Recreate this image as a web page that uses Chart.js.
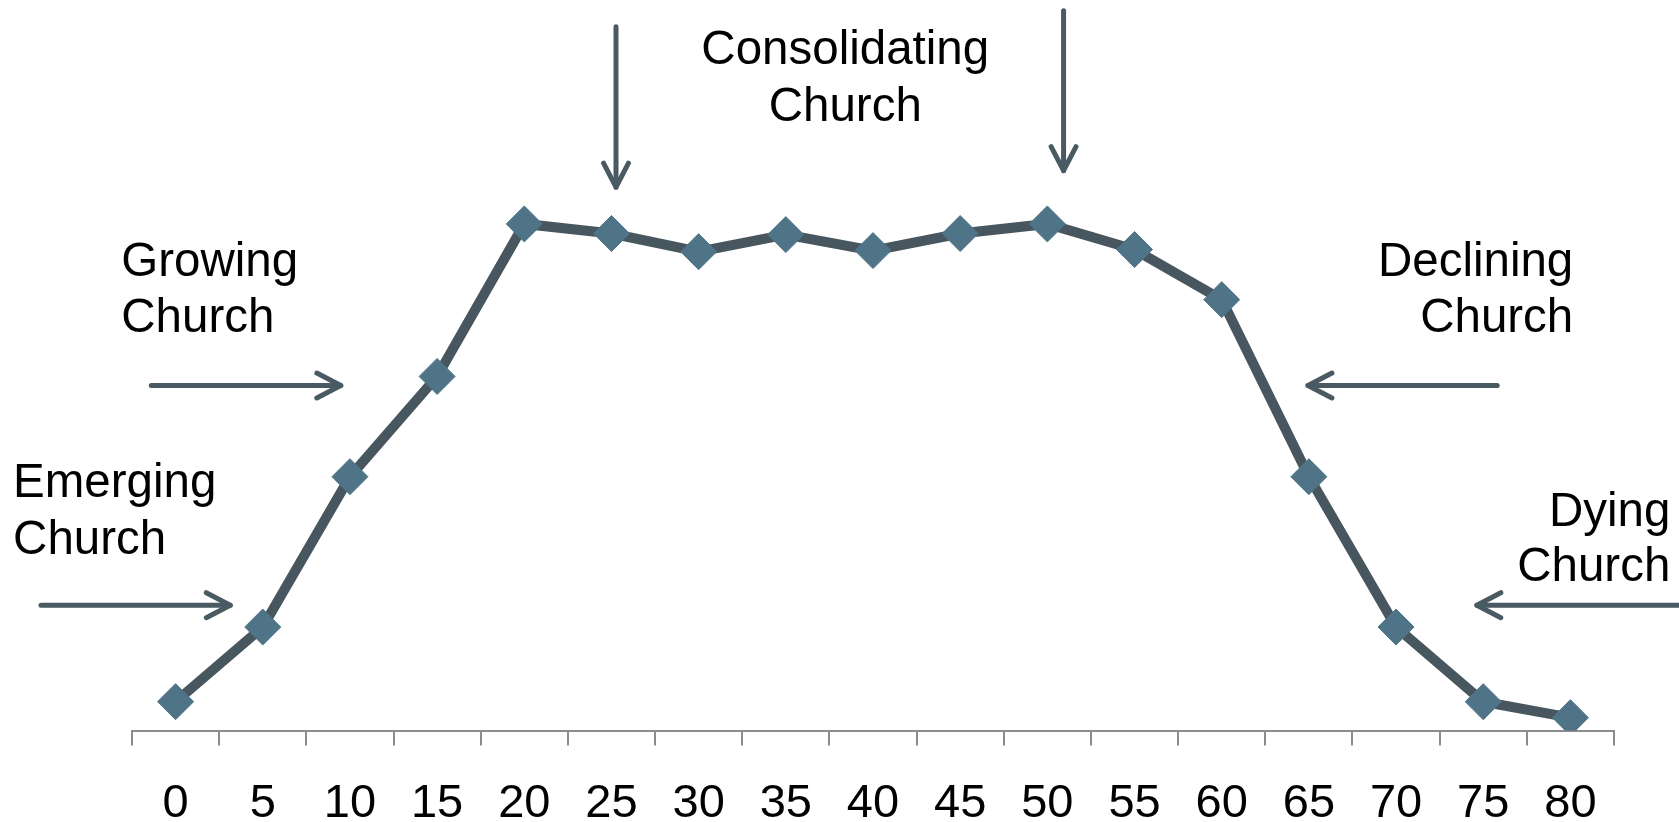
<!DOCTYPE html>
<html>
<head>
<meta charset="utf-8">
<script src="https://cdn.jsdelivr.net/npm/chart.js@4"></script>
<style>
  body { margin: 0; background: #fff; }
  #wrap { width: 1679px; height: 822px; }
</style>
</head>
<body>
<div id="wrap"><canvas id="c" width="1679" height="822"></canvas></div>
<script>
// church age (years) and relative size
const ages = ['0', '5', '10', '15', '20', '25', '30', '35', '40', '45', '50', '55', '60', '65', '70', '75', '80']
const size = [5.4, 19.4, 47.6, 66.4, 95, 93.2, 89.8, 93, 90, 93.2, 95, 90.2, 80.8, 47.6, 19.4, 5.4, 2.4]

// stage labels, placed in data units (x = category index, y = value)
const stageText = [
  {lines: ['Emerging', 'Church'], x: -1.864, y: [46.3, 35.6], align: 'left'},
  {lines: ['Growing', 'Church'], x: -0.623, y: [87.7, 77.1], align: 'left'},
  {lines: ['Consolidating', 'Church'], x: 7.682, y: [127.4, 116.8], align: 'center'},
  {lines: ['Declining', 'Church'], x: 16.033, y: [87.7, 77.1], align: 'right'},
  {lines: ['Dying', 'Church'], x: 17.146, y: [40.9, 30.4], align: 'right'}
]
// arrows: from (x1,y1) to (x2,y2), head at the end
const arrows = [
  [-1.544, 23.5, 0.627, 23.5],
  [-0.279, 64.7, 1.895, 64.7],
  [5.052, 132, 5.052, 101.9],
  [10.186, 135, 10.186, 105],
  [15.16, 64.7, 12.99, 64.7],
  [17.248, 23.5, 14.927, 23.5]
]

const annotations = {
  id: 'annotations',
  afterDraw(chart) {
    const ctx = chart.ctx
    const xs = chart.scales.x, ys = chart.scales.y
    ctx.save()
    ctx.strokeStyle = '#4a5a62'
    ctx.lineWidth = 5
    ctx.lineCap = 'round'
    ctx.lineJoin = 'round'
    arrows.forEach(a => {
      const x1 = xs.getPixelForValue(a[0]), y1 = ys.getPixelForValue(a[1])
      const x2 = xs.getPixelForValue(a[2]), y2 = ys.getPixelForValue(a[3])
      const ang = Math.atan2(y2 - y1, x2 - x1)
      ctx.beginPath()
      ctx.moveTo(x1, y1)
      ctx.lineTo(x2, y2)
      ctx.stroke()
      ctx.beginPath()
      ctx.moveTo(x2 - 27 * Math.cos(ang - 0.48), y2 - 27 * Math.sin(ang - 0.48))
      ctx.lineTo(x2, y2)
      ctx.lineTo(x2 - 27 * Math.cos(ang + 0.48), y2 - 27 * Math.sin(ang + 0.48))
      ctx.stroke()
    })
    ctx.fillStyle = '#000'
    ctx.font = '47.5px "Liberation Sans", Arial, sans-serif'
    ctx.textBaseline = 'middle'
    stageText.forEach(t => {
      ctx.textAlign = t.align
      t.lines.forEach((ln, i) => {
        ctx.fillText(ln, xs.getPixelForValue(t.x), ys.getPixelForValue(t.y[i]))
      })
    })
    ctx.restore()
  }
}

new Chart(document.getElementById('c'), {
  type: 'line',
  data: {
    labels: ages,
    datasets: [{
      data: size,
      borderColor: '#48575f',
      borderWidth: 10,
      pointStyle: 'rectRot',
      pointRadius: 18,
      pointBackgroundColor: '#4f7487',
      pointBorderColor: '#4f7487',
      pointBorderWidth: 1,
      tension: 0
    }]
  },
  options: {
    responsive: false,
    animation: false,
    layout: {autoPadding: false, padding: {left: 132, right: 65, top: 0, bottom: -40.5}},
    plugins: {legend: {display: false}, tooltip: {enabled: false}},
    scales: {
      x: {
        offset: true,
        grid: {offset: true, drawOnChartArea: false, drawTicks: true, tickLength: 15, color: '#8c8c8c', lineWidth: 2},
        border: {color: '#8c8c8c', width: 2},
        ticks: {color: '#000', padding: 35, font: {family: '"Liberation Sans", Arial, sans-serif', size: 47, lineHeight: 1}, maxRotation: 0, autoSkip: false}
      },
      y: {display: false, min: 0, max: 137}
    }
  },
  plugins: [annotations]
})
</script>
</body>
</html>
